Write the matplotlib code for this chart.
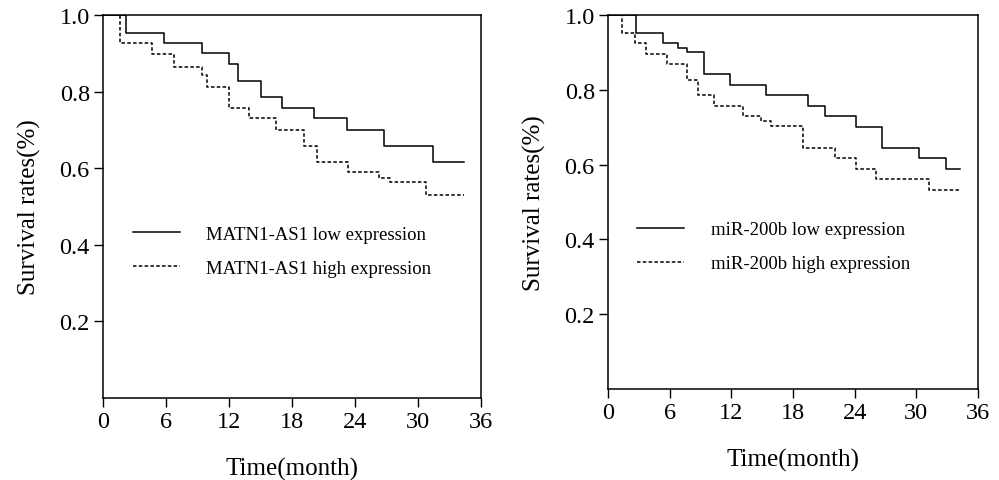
import matplotlib
matplotlib.use("Agg")
import matplotlib.pyplot as plt

plt.rcParams['font.family'] = ['Liberation Serif', 'DejaVu Serif']

# Panel A: MATN1-AS1
a_low_t = [0, 2.2, 5.8, 9.4, 12.0, 12.9, 15.0, 17.0, 20.1, 23.2, 26.8, 31.4, 34.4]
a_low_s = [1.0, 0.954, 0.927, 0.900, 0.871, 0.828, 0.785, 0.758, 0.730, 0.700, 0.659, 0.617, 0.617]
a_high_t = [0, 1.6, 4.7, 6.8, 9.45, 9.9, 12.0, 13.9, 16.5, 19.1, 20.4, 23.3, 26.3, 27.3, 30.8, 34.4]
a_high_s = [1.0, 0.927, 0.899, 0.864, 0.842, 0.812, 0.758, 0.731, 0.700, 0.658, 0.617, 0.590, 0.575, 0.563, 0.531, 0.531]

# Panel B: miR-200b
b_low_t = [0, 2.7, 5.4, 6.8, 7.7, 9.3, 11.9, 15.4, 19.5, 21.1, 24.1, 26.7, 30.3, 32.9, 34.25]
b_low_s = [1.0, 0.953, 0.926, 0.912, 0.900, 0.842, 0.813, 0.786, 0.757, 0.729, 0.700, 0.645, 0.617, 0.589, 0.589]
b_high_t = [0, 1.4, 2.6, 3.7, 5.7, 7.7, 8.8, 10.3, 13.1, 14.9, 15.9, 19.0, 22.1, 24.1, 26.1, 31.2, 34.25]
b_high_s = [1.0, 0.953, 0.926, 0.897, 0.870, 0.827, 0.787, 0.756, 0.729, 0.716, 0.702, 0.645, 0.618, 0.589, 0.562, 0.533, 0.533]

x_ticks = [0, 6, 12, 18, 24, 30, 36]
y_ticks = [0.2, 0.4, 0.6, 0.8, 1.0]
labels_a = ["MATN1-AS1 low expression", "MATN1-AS1 high expression"]
labels_b = ["miR-200b low expression", "miR-200b high expression"]

fig = plt.figure(figsize=(9.99, 4.81), dpi=100)
ax1 = fig.add_axes([0.1031, 0.1705, 0.3784, 0.7963])
ax2 = fig.add_axes([0.6086, 0.1892, 0.3704, 0.7775])

dash = (0, (2.3, 1.5))
panels = [
    (ax1, a_low_t, a_low_s, a_high_t, a_high_s, labels_a, (0.034, 0.494)),
    (ax2, b_low_t, b_low_s, b_high_t, b_high_s, labels_b, (0.034, 0.494)),
]
for ax, lt, ls, ht, hs, labs, anchor in panels:
    ax.step(lt, ls, where='post', color='black', lw=1.1, label=labs[0])
    ax.step(ht, hs, where='post', color='black', lw=1.1, linestyle=dash, label=labs[1])
    ax.set_xlim(0, 36)
    ax.set_ylim(0, 1.0)
    ax.set_xticks(x_ticks)
    ax.set_yticks(y_ticks)
    ax.set_yticklabels([f"{v:.1f}" for v in y_ticks])
    ax.tick_params(direction='out', length=6.5, width=1, labelsize=17.5, colors='black', pad=3)
    for sp in ax.spines.values():
        sp.set_linewidth(1.1)
    ax.set_xlabel("Time(month)", fontsize=18, labelpad=18)
    ax.set_ylabel("Survival rates(%)", fontsize=18, labelpad=13)
    ax.legend(loc='upper left', bbox_to_anchor=anchor, frameon=False,
              fontsize=13.5, handlelength=2.5, handletextpad=1.4, labelspacing=0.9)

fig.savefig("out.png", dpi=100)
